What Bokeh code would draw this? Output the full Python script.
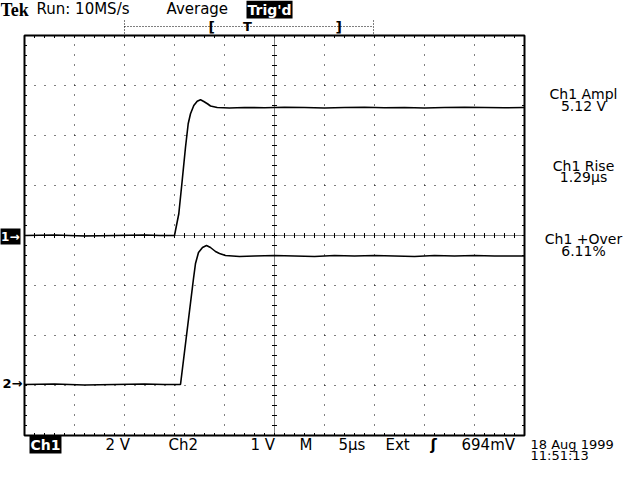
import numpy as np
from bokeh.plotting import figure
from bokeh.models import Range1d, Label
from bokeh.embed import file_html
from bokeh.resources import INLINE

# ---- data ----
# Channel 1: time in microseconds, volts (2 V/div)
ch1_t = [-25.0, -22.0, -19.0, -16.0, -13.0, -11.5, -10.0, -9.57, -9.23, -8.9, -8.63, -8.4,
         -8.07, -7.73, -7.4, -7.07, -6.67, -6.4, -5.73, -4.5, -3.0, -1.0, 1.0, 3.0, 5.0,
         7.0, 9.0, 11.0, 13.0, 15.0, 17.0, 19.0, 21.0, 23.0, 25.0]
ch1_v = [0.0, 0.02, -0.02, 0.0, 0.02, 0.0, 0.0, 0.87, 2.2, 3.53, 4.47, 4.87,
         5.2, 5.37, 5.43, 5.36, 5.26, 5.18, 5.12, 5.10, 5.12, 5.11, 5.13, 5.12, 5.10,
         5.12, 5.13, 5.11, 5.12, 5.10, 5.12, 5.13, 5.12, 5.11, 5.12]
# Channel 2: time in microseconds, volts (1 V/div, ground at -3 div)
ch2_t = [-25.0, -22.0, -19.0, -16.0, -13.0, -11.0, -9.4, -8.1, -7.9, -7.6, -7.2, -6.8,
         -6.4, -5.9, -5.5, -4.9, -3.5, -2.0, 0.0, 2.0, 4.0, 6.0, 8.0, 10.0, 12.0, 14.0,
         16.0, 18.0, 20.0, 22.0, 25.0]
ch2_v = [0.02, 0.03, 0.01, 0.02, 0.03, 0.02, 0.02, 2.14, 2.44, 2.66, 2.76, 2.80,
         2.76, 2.68, 2.64, 2.60, 2.58, 2.59, 2.60, 2.59, 2.58, 2.60, 2.59, 2.60, 2.59,
         2.58, 2.60, 2.59, 2.60, 2.59, 2.59]
ch1_volts_per_div = 2.0
ch2_volts_per_div = 1.0
ch2_offset_div = -3.0

# graticule
x_divs = [-25, -20, -15, -10, -5, 0, 5, 10, 15, 20, 25]   # 5 us/div
y_divs = [-4, -3, -2, -1, 0, 1, 2, 3, 4]

# texts
header = ["Run: 10MS/s", "Average"]
bottom_labels = ["2 V", "Ch2", "1 V", "M", "5\u00b5s", "Ext", "\u0283", "694mV"]
meas = [("Ch1 Ampl", "5.12 V"), ("Ch1 Rise", "1.29\u00b5s"), ("Ch1 +Over", "6.11%")]
date_lines = ["18 Aug 1999", "11:51:13"]


def X(px):  # screen pixel -> microseconds
    return (px - 274) / 10.0


def Y(py):  # screen pixel -> divisions
    return (235 - py) / 50.0


W, H = 624, 464
p = figure(width=W, height=H, x_range=Range1d(X(0), X(W)), y_range=Range1d(Y(H), Y(0)),
           output_backend="svg", toolbar_location=None, min_border=0,
           x_axis_location=None, y_axis_location=None)
p.grid.visible = False
p.outline_line_color = None
p.background_fill_color = "white"
p.border_fill_color = "white"

x0, x1 = x_divs[0], x_divs[-1]
y0, y1 = y_divs[0], y_divs[-1]
K = "black"

# division grid lines (sparse dots)
gx = [x for x in x_divs[1:-1] if x != 0]
gy = [y for y in y_divs[1:-1] if y != 0]
p.segment(x0=gx, y0=[y0] * len(gx), x1=gx, y1=[y1] * len(gx), line_color=K, line_width=1, line_dash="1 9")
p.segment(x0=[x0] * len(gy), y0=gy, x1=[x1] * len(gy), y1=gy, line_color=K, line_width=1, line_dash="1 9")
# centre lines (dense dots)
p.segment(x0=[0, x0], y0=[y0, 0], x1=[0, x1], y1=[y1, 0], line_color=K, line_width=1, line_dash="1 1")
# centre ticks
tx = np.arange(x0 + 1, x1, 1.0)
ty = np.arange(y0 + 0.2, y1 - 0.1, 0.2)
p.segment(x0=tx, y0=np.full(len(tx), -0.05), x1=tx, y1=np.full(len(tx), 0.05), line_color=K, line_width=1)
p.segment(x0=np.full(len(ty), -0.25), y0=ty, x1=np.full(len(ty), 0.25), y1=ty, line_color=K, line_width=1)
# border ticks
p.segment(x0=tx, y0=np.full(len(tx), y1), x1=tx, y1=np.full(len(tx), y1 - 0.05), line_color=K, line_width=1)
p.segment(x0=tx, y0=np.full(len(tx), y0), x1=tx, y1=np.full(len(tx), y0 + 0.05), line_color=K, line_width=1)
p.segment(x0=np.full(len(ty), x0), y0=ty, x1=np.full(len(ty), x0 + 0.25), y1=ty, line_color=K, line_width=1)
p.segment(x0=np.full(len(ty), x1), y0=ty, x1=np.full(len(ty), x1 - 0.25), y1=ty, line_color=K, line_width=1)
# frame
p.rect(x=[(x0 + x1) / 2], y=[(y0 + y1) / 2], width=[x1 - x0], height=[y1 - y0],
       fill_color=None, line_color=K, line_width=2)

# trigger bracket bar
p.segment(x0=[X(124)], y0=[Y(26)], x1=[X(373)], y1=[Y(26)], line_color=K, line_width=1, line_dash="1 2")
p.segment(x0=[X(124), X(373)], y0=[Y(20), Y(20)], x1=[X(124), X(373)], y1=[Y(33), Y(33)],
          line_color=K, line_width=1, line_dash="1 2")

# waveforms
p.line(ch1_t, [v / ch1_volts_per_div for v in ch1_v], line_color=K, line_width=1.6)
p.line(ch2_t, [v / ch2_volts_per_div + ch2_offset_div for v in ch2_v], line_color=K, line_width=1.6)

FONT = "DejaVu Sans"


def lab(text, px, py, align="left", size=15, bold=False, box=False, font=FONT):
    # py is the vertical centre of the text
    kw = dict(x=X(px), y=Y(py), text=text, text_align=align, text_baseline="middle",
              text_font=font, text_font_size=f"{size}px",
              text_font_style="bold" if bold else "normal",
              text_color="white" if box else "black")
    if box:
        kw["background_fill_color"] = "black"
        kw["padding"] = 1
    p.add_layout(Label(**kw))


# header
lab("Tek", 0, 9, size=18, bold=True, font="Liberation Serif")
lab(header[0], 36, 8)
lab(header[1], 166, 8)
lab("Trig'd", 246, 9, size=14, bold=True, box=True)
lab("[", 208, 26, size=14, bold=True)
lab("T", 247, 26, align="center", size=13, bold=True)
lab("]", 335, 26, size=14, bold=True)

# channel markers
lab("1\u2192", 20, 236, align="right", size=12, bold=True, box=True)
lab("2\u2192", 22, 383, align="right", size=13, bold=True)

# bottom status line
lab("Ch1", 29, 444, size=14, bold=True, box=True)
bottom_x = [105, 168, 250, 299, 338, 385, 430, 461]
for t, bx in zip(bottom_labels, bottom_x):
    lab(t, bx, 444, size=15, bold=(t == "\u0283"))

# measurements
meas_y = [(93, 105), (165, 176), (238, 250)]
for (a, b), (ya, yb) in zip(meas, meas_y):
    lab(a, 583, ya, align="center", size=14)
    lab(b, 583, yb, align="center", size=14)

# date (kept inside the canvas)
lab(date_lines[0], 530, 444, size=13)
lab(date_lines[1], 530, 455, size=13)

open("out.html", "w").write(file_html(p, INLINE))
